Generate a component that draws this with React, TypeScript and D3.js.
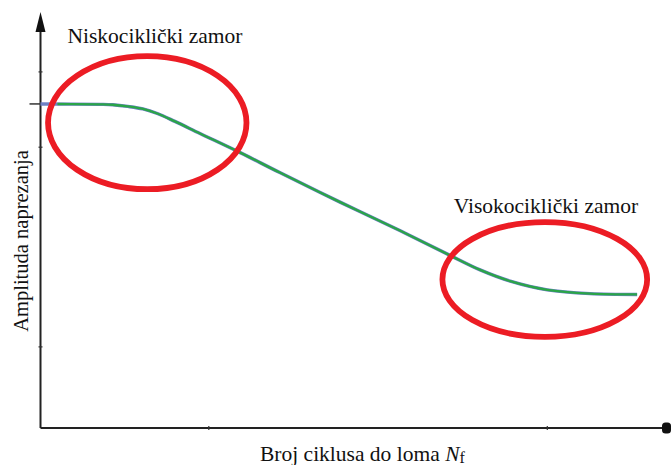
import React from "react";
import { scaleLinear, line, curveCatmullRom } from "d3";

// curve (abstract units, 0..100 on both axes)
const cycles = [0, 9.5, 11.5, 13.9, 16.3, 18.6, 21.4, 25.4, 31.8, 38.1, 47.7, 57.3, 65.2, 70.0, 74.8, 80.7, 87.5, 95.0];
const amplitude = [77.9, 77.8, 77.7, 77.3, 76.7, 75.6, 73.7, 70.8, 66.2, 61.4, 54.3, 47.4, 41.5, 38.0, 35.3, 33.2, 32.3, 32.1];

const yTicks = [85.6, 67.5, 19.5];
const yMajorTick = 77.9;
const xTicks = [26.8, 80.7];

// red rings: centre x, centre y, half-width, half-height
const ringCx = [17.0, 80.3];
const ringCy = [73.4, 35.7];
const ringRx = [15.8, 16.3];
const ringRy = [16.0, 13.8];

const regionLabels = ["Niskociklički zamor", "Visokociklički zamor"];
const labelX = [4.3, 65.8];
const labelY = [92.5, 51.7];

export default function App() {
  const width = 672;
  const height = 465;

  const x = scaleLinear().domain([0, 100]).range([40.5, 668.5]);
  const y = scaleLinear().domain([0, 100]).range([428, 12]);

  const pts: [number, number][] = cycles.map((c, i) => [c, amplitude[i]]);
  const path = line<[number, number]>()
    .x(d => x(d[0]))
    .y(d => y(d[1]))
    .curve(curveCatmullRom.alpha(0.5))(pts) || "";

  const x0 = x(0);
  const y0 = y(0);
  const font = "'Liberation Serif', 'Times New Roman', serif";

  return (
    <svg
      width={width}
      height={height}
      style={{ position: "absolute", left: 0, top: 0, background: "#fff" }}
    >
      <defs>
        <clipPath id="greenPart">
          <rect x={x(2.7)} y={0} width={width} height={height} />
        </clipPath>
      </defs>

      {/* axes */}
      <line x1={x0} x2={x0} y1={y0} y2={30} stroke="#222" strokeWidth={2} />
      <path d={`M${x0},12 L${x0 + 5},32 L${x0 - 5},32 Z`} fill="#111" />
      <line x1={x0} x2={663} y1={y0} y2={y0} stroke="#222" strokeWidth={2} />
      <rect x={662} y={422.5} width={9} height={11} rx={3.5} fill="#111" />

      {yTicks.map(t => (
        <line key={t} x1={x0 - 2} x2={x0 + 2} y1={y(t)} y2={y(t)} stroke="#333" strokeWidth={1.2} />
      ))}
      <line x1={x0 - 11} x2={x0} y1={y(yMajorTick)} y2={y(yMajorTick)} stroke="#333" strokeWidth={1.5} />
      {xTicks.map(t => (
        <line key={t} x1={x(t)} x2={x(t)} y1={y0 - 2} y2={y0 + 2} stroke="#333" strokeWidth={1.2} />
      ))}

      {/* curve: bluish underlay, green on top */}
      <path d={path} fill="none" stroke="#6f80c4" strokeWidth={3.4} />
      <path d={path} fill="none" stroke="#2aa548" strokeWidth={2.3} clipPath="url(#greenPart)" />

      {/* rings */}
      {ringCx.map((cx, i) => (
        <ellipse
          key={i}
          cx={x(cx)}
          cy={y(ringCy[i])}
          rx={x(ringRx[i]) - x(0)}
          ry={y(0) - y(ringRy[i])}
          fill="none"
          stroke="#ec1c24"
          strokeWidth={5.8}
        />
      ))}

      {/* labels */}
      {regionLabels.map((t, i) => (
        <text
          key={t}
          x={x(labelX[i])}
          y={y(labelY[i])}
          fontFamily={font}
          fontSize={21.5}
          fill="#111"
        >
          {t}
        </text>
      ))}
      <text
        transform={`translate(28,241) rotate(-90)`}
        textAnchor="middle"
        fontFamily={font}
        fontSize={20.5}
        fill="#111"
      >
        Amplituda naprezanja
      </text>
      <text x={260} y={461} fontFamily={font} fontSize={21.5} fill="#111">
        Broj ciklusa do loma <tspan fontStyle="italic">N</tspan>
        <tspan fontSize={16} dy={2}>f</tspan>
      </text>
    </svg>
  );
}
